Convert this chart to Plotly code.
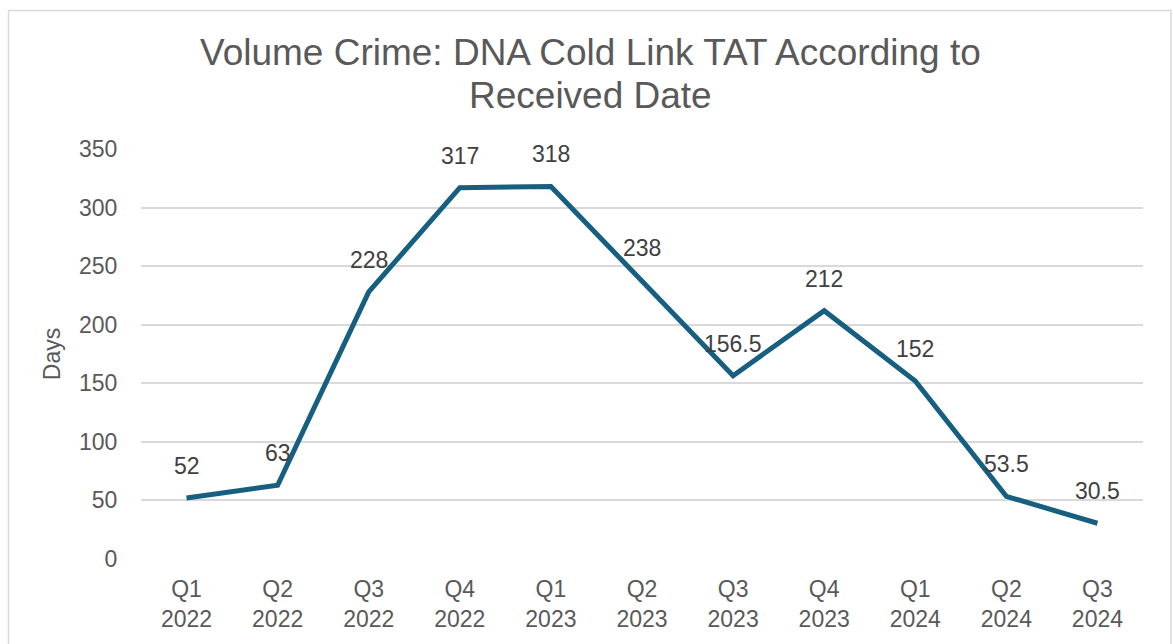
import plotly.graph_objects as go

quarters = ["Q1<br>2022", "Q2<br>2022", "Q3<br>2022", "Q4<br>2022",
            "Q1<br>2023", "Q2<br>2023", "Q3<br>2023", "Q4<br>2023",
            "Q1<br>2024", "Q2<br>2024", "Q3<br>2024"]
days = [52, 63, 228, 317, 318, 238, 156.5, 212, 152, 53.5, 30.5]
value_labels = ["52", "63", "228", "317", "318", "238", "156.5", "212", "152", "53.5", "30.5"]
title_lines = ["Volume Crime: DNA Cold Link TAT According to", "Received Date"]

W, H = 1173, 644
ML, MR, MT, MB = 141, 30, 149, 82
PW, PH = W - ML - MR, H - MT - MB
FONT = "Arial, 'Liberation Sans', sans-serif"
LINE_COLOR = "#175f81"
TEXT_GREY = "#595959"


def px_x(x):
    return (x - ML) / PW


def px_y(y):
    return (H - MB - y) / PH


fig = go.Figure()
fig.add_trace(go.Scatter(
    x=quarters, y=days, mode="lines",
    line=dict(color=LINE_COLOR, width=5),
    hoverinfo="x+y",
))

for q, v, lab in zip(quarters, days, value_labels):
    fig.add_annotation(
        x=q, y=v, text=lab, showarrow=False,
        yanchor="bottom", yshift=17,
        font=dict(family=FONT, size=23, color="#404040"),
    )

# two-line chart title
for line, y_c in zip(title_lines, [52, 95]):
    fig.add_annotation(
        text=line, xref="paper", yref="paper",
        x=px_x(590), y=px_y(y_c), xanchor="center", yanchor="middle",
        showarrow=False, font=dict(family=FONT, size=37, color=TEXT_GREY),
    )

fig.update_layout(
    width=W, height=H,
    margin=dict(l=ML, r=MR, t=MT, b=MB),
    paper_bgcolor="white", plot_bgcolor="white",
    showlegend=False,
    xaxis=dict(
        type="category", range=[-0.5, len(quarters) - 0.5],
        showgrid=False, zeroline=False, showline=False,
        ticks="outside", ticklen=9, tickcolor="rgba(0,0,0,0)",
        tickfont=dict(family=FONT, size=23, color=TEXT_GREY),
    ),
    yaxis=dict(
        range=[0, 350], dtick=50, showgrid=True, gridcolor="#d9d9d9", gridwidth=1.5,
        zeroline=False, showline=False, ticks="outside", ticklen=18,
        tickcolor="rgba(0,0,0,0)",
        tickfont=dict(family=FONT, size=23, color=TEXT_GREY),
        title=dict(text="Days", font=dict(family=FONT, size=23, color=TEXT_GREY), standoff=11),
    ),
    shapes=[dict(
        type="rect", xref="paper", yref="paper",
        x0=px_x(8.5), x1=px_x(1171), y0=px_y(700), y1=px_y(9.5),
        line=dict(color="#d9d9d9", width=1.5), fillcolor="rgba(0,0,0,0)",
    )],
)

fig.write_html("out.html")
